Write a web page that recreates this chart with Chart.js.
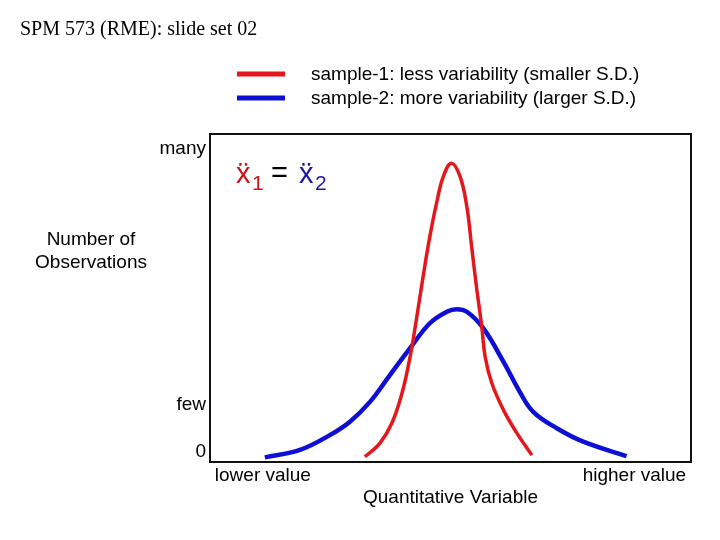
<!DOCTYPE html>
<html>
<head>
<meta charset="utf-8">
<script src="https://cdn.jsdelivr.net/npm/chart.js@4"></script>
<style>
  html, body { margin: 0; padding: 0; background: #fff; }
  #wrap { width: 720px; height: 540px; }
</style>
</head>
<body>
<div id="wrap"><canvas id="mycanvas" width="720" height="540"></canvas></div>
<script>
// values (x: 0 = lower value .. 100 = higher value, y: 0 .. 100 = box height)
var redX = [32.2, 35.3, 37.8, 39.9, 41.6, 43.0, 44.3, 45.7, 47.1, 48.5, 50.2, 52.0, 53.4, 54.4, 55.4, 56.5, 57.2, 58.6, 61.0, 63.8, 66.9];
var redY = [1.6, 5.7, 11.8, 20.9, 32.1, 44.3, 56.5, 68.7, 78.9, 87.0, 91.1, 87.0, 77.8, 65.6, 53.4, 41.3, 32.1, 24.0, 15.9, 8.8, 2.1];
var blueX = [11.4, 18.7, 24.9, 29.1, 33.3, 37.4, 41.6, 45.7, 49.2, 51.3, 53.4, 56.8, 61.0, 64.4, 67.2, 72.1, 77.6, 86.6];
var blueY = [1.4, 3.7, 8.2, 12.3, 18.4, 26.5, 34.7, 42.3, 45.8, 46.6, 45.8, 40.8, 30.6, 21.4, 15.3, 10.3, 6.2, 1.8];
var seriesNames = ['sample-1: less variability (smaller S.D.)', 'sample-2: more variability (larger S.D.)'];
var yTickValues = [3.0, 17.3, 95.4];
var yTickLabels = ['0', 'few', 'many'];
var xTickValues = [1, 99];
var xTickLabels = ['lower value', 'higher value'];

var SANS = 'Arial, "Liberation Sans", sans-serif';
var SERIF = '"Times New Roman", "Liberation Serif", serif';

function toPoints(xs, ys) {
	var pts = [];
	for (var i in xs) {
		pts.push({x: xs[i], y: ys[i]});
	}
	return pts;
}

// frame, legend, page title and extra labels
var decorations = {
	id: 'decorations',
	afterDraw: function(chart) {
		var ctx = chart.ctx;
		var a = chart.chartArea;
		ctx.save();

		ctx.strokeStyle = '#111';
		ctx.lineWidth = 2;
		ctx.strokeRect(a.left, a.top, a.right - a.left, a.bottom - a.top);

		ctx.fillStyle = '#000';
		ctx.textBaseline = 'alphabetic';
		ctx.textAlign = 'left';
		ctx.font = '20px ' + SERIF;
		ctx.fillText('SPM 573 (RME): slide set 02', 20, 35);

		// legend
		chart.data.datasets.forEach(function(ds, i) {
			var y = 74 + i * 24;
			ctx.strokeStyle = ds.borderColor;
			ctx.lineWidth = 5;
			ctx.beginPath();
			ctx.moveTo(237, y);
			ctx.lineTo(285, y);
			ctx.stroke();
			ctx.fillStyle = '#000';
			ctx.font = '19px ' + SANS;
			ctx.textBaseline = 'middle';
			ctx.fillText(ds.label, 311, y + 1);
		});

		// y axis title
		ctx.textAlign = 'center';
		ctx.textBaseline = 'middle';
		ctx.font = '19px ' + SANS;
		ctx.fillText('Number of', 91, 240);
		ctx.fillText('Observations', 91, 263);

		// mean label
		ctx.textAlign = 'left';
		ctx.textBaseline = 'alphabetic';
		ctx.font = '29px ' + SANS;
		ctx.fillStyle = '#cc1515';
		ctx.fillText('x\u0308', 236, 183);
		ctx.font = '21px ' + SANS;
		ctx.fillText('1', 252, 190);
		ctx.fillStyle = '#000';
		ctx.font = '29px ' + SANS;
		ctx.fillText('=', 271, 182);
		ctx.fillStyle = '#1818a8';
		ctx.fillText('x\u0308', 299, 183);
		ctx.font = '21px ' + SANS;
		ctx.fillText('2', 315, 190);

		ctx.restore();
	}
};

var chartdata = {
	datasets: [
		{
			label: seriesNames[0],
			data: toPoints(redX, redY),
			borderColor: '#e3171c',
			borderWidth: 3.5,
			pointRadius: 0,
			tension: 0.4,
			fill: false
		},
		{
			label: seriesNames[1],
			data: toPoints(blueX, blueY),
			borderColor: '#0d10d4',
			borderWidth: 4.5,
			pointRadius: 0,
			tension: 0.4,
			fill: false
		}
	]
};

var ctx = document.getElementById('mycanvas');

var chart = new Chart(ctx, {
	type: 'line',
	data: chartdata,
	plugins: [decorations],
	options: {
		responsive: false,
		animation: false,
		events: [],
		layout: { padding: { top: 134, right: 29, left: 0, bottom: 27 } },
		plugins: {
			legend: { display: false },
			tooltip: { enabled: false }
		},
		scales: {
			x: {
				type: 'linear',
				min: 0,
				max: 100,
				grid: { display: false, drawTicks: false },
				border: { display: false },
				afterBuildTicks: function(scale) {
					scale.ticks = xTickValues.map(function(v) { return {value: v}; });
				},
				afterFit: function(scale) { scale.height = 51; },
				ticks: {
					align: 'inner',
					maxRotation: 0,
					padding: 2,
					color: '#000',
					font: { family: SANS, size: 19 },
					callback: function(v) { return xTickLabels[xTickValues.indexOf(v)]; }
				},
				title: {
					display: true,
					text: 'Quantitative Variable',
					color: '#000',
					font: { family: SANS, size: 19 },
					padding: { top: 2 }
				}
			},
			y: {
				type: 'linear',
				min: 0,
				max: 100,
				grid: { display: false, drawTicks: false },
				border: { display: false },
				afterBuildTicks: function(scale) {
					scale.ticks = yTickValues.map(function(v) { return {value: v}; });
				},
				afterFit: function(scale) { scale.width = 210; },
				ticks: {
					padding: 4,
					color: '#000',
					font: { family: SANS, size: 19 },
					callback: function(v) { return yTickLabels[yTickValues.indexOf(v)]; }
				}
			}
		}
	}
});
</script>
</body>
</html>
